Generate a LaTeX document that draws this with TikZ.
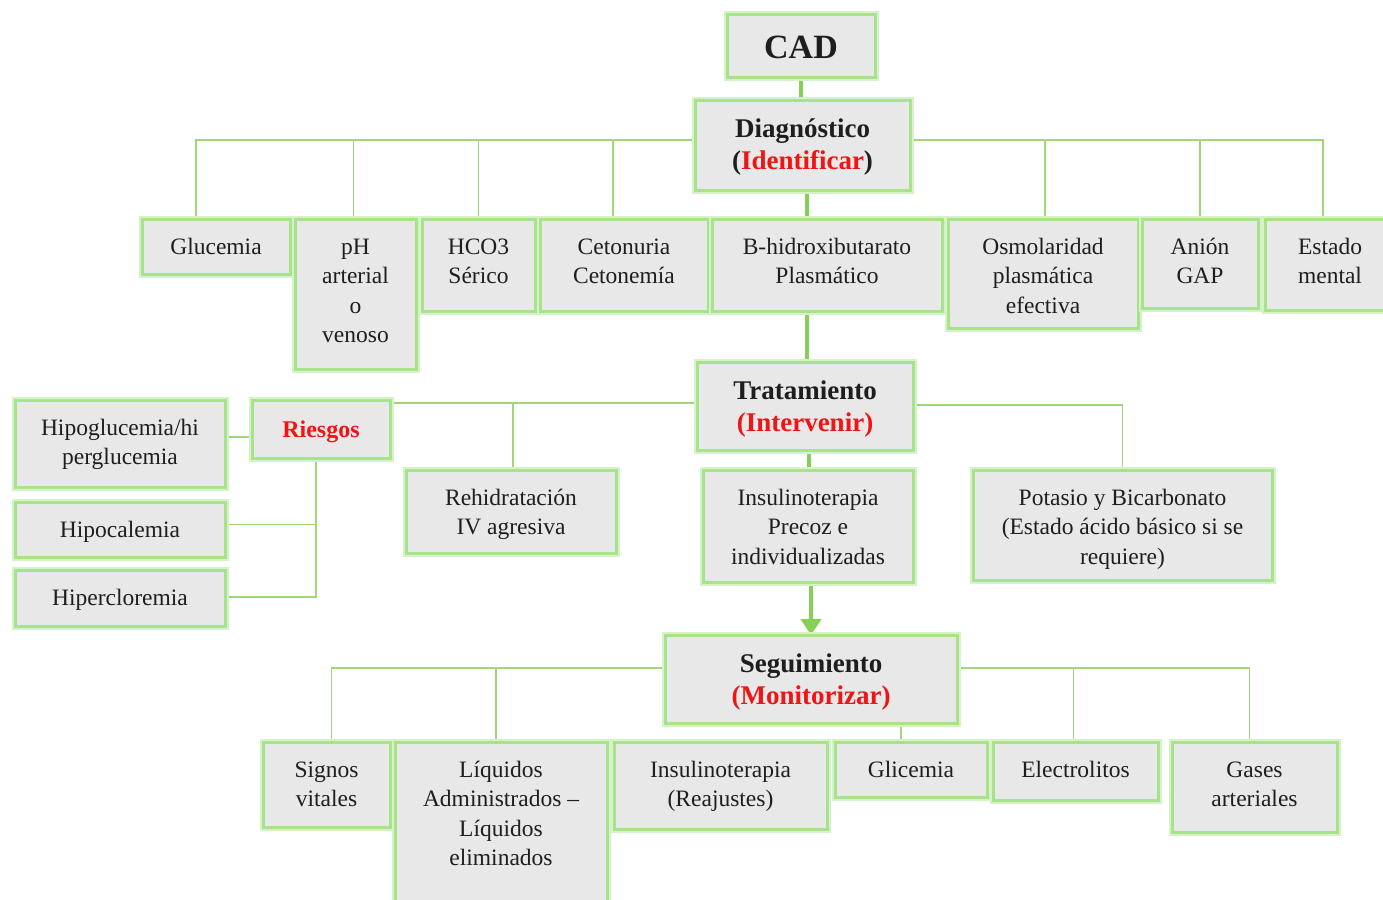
\documentclass[tikz,border=0pt]{standalone}
\usepackage{fontspec}
\setmainfont{Liberation Serif}
\usetikzlibrary{calc,arrows.meta}
\pgfdeclarelayer{background}
\pgfsetlayers{background,main}
\definecolor{boxfill}{RGB}{232,232,232}
\definecolor{boxedge}{RGB}{168,226,138}
\definecolor{glow}{RGB}{214,242,200}
\definecolor{conn}{RGB}{160,215,125}
\definecolor{spine}{RGB}{135,208,85}
\definecolor{txt}{RGB}{30,30,30}
\definecolor{redtxt}{RGB}{240,20,20}
\tikzset{
  boxnode/.style={draw=boxedge, line width=3pt, fill=boxfill, inner sep=0pt, outer sep=0pt,
    preaction={draw=glow, line width=7pt}},
  lbl/.style={anchor=north, yshift=-14.5pt, inner sep=0pt, align=center, text=txt,
    font=\fontsize{23.5}{29.5}\selectfont},
  hlbl/.style={lbl, yshift=0pt, font=\bfseries\fontsize{27}{32.5}\selectfont},
  cadlbl/.style={lbl, yshift=-1pt, font=\bfseries\fontsize{34}{40}\selectfont},
  conline/.style={draw=conn, line width=1.8pt},
  spineline/.style={draw=spine, line width=4pt},
}
\newcommand\mybox[5]{\node[boxnode, minimum width={#4-#2}, minimum height={#5-#3}] (#1) at ({(#2+#4)/2},{(#3+#5)/2}) {};}
\newcommand\mytext[3][lbl]{\node[#1] (#2t) at (#2.north) {\strut #3};}
\begin{document}
\begin{tikzpicture}[x=1pt,y=-1pt]
\useasboundingbox (0,0) rectangle (1383,899);
\clip (0,0) rectangle (1383,899);
% boxes
\mybox{cad}{727}{15}{875}{77}
\mybox{diag}{695}{100}{910}{190}
\mybox{glu}{142}{219}{290}{274}
\mybox{ph}{295}{219}{416}{369}
\mybox{hco}{422}{219}{535}{311}
\mybox{ceto}{540}{219}{708}{311}
\mybox{bhid}{712}{219}{942}{311}
\mybox{osmo}{948}{219}{1138}{328}
\mybox{anion}{1142}{219}{1258}{308}
\mybox{estado}{1265}{219}{1395}{310}
\mybox{trat}{697}{362}{913}{450}
\mybox{ries}{252}{400}{390}{458}
\mybox{hipo}{15}{400}{225}{487}
\mybox{hipoc}{15}{502}{225}{557}
\mybox{hiper}{15}{570}{225}{626}
\mybox{rehid}{406}{470}{616}{553}
\mybox{insp}{703}{470}{913}{582}
\mybox{pota}{973}{470}{1272}{580}
\mybox{seg}{665}{635}{957}{723}
\mybox{sig}{263}{742}{390}{827}
\mybox{liq}{395}{742}{607}{920}
\mybox{insr}{614}{742}{827}{829}
\mybox{glic}{835}{742}{987}{797}
\mybox{elec}{993}{742}{1158}{800}
\mybox{gases}{1172}{742}{1337}{832}
% texts
\mytext[cadlbl]{cad}{CAD}
\mytext[hlbl]{diag}{Diagnóstico\\(\textcolor{redtxt}{Identificar})}
\mytext{glu}{Glucemia}
\mytext{ph}{pH\\arterial\\o\\venoso}
\mytext{hco}{HCO3\\Sérico}
\mytext{ceto}{Cetonuria\\Cetonemía}
\mytext{bhid}{B-hidroxibutarato\\Plasmático}
\mytext{osmo}{Osmolaridad\\plasmática\\efectiva}
\mytext{anion}{Anión\\GAP}
\mytext{estado}{Estado\\mental}
\mytext[hlbl]{trat}{Tratamiento\\\textcolor{redtxt}{(Intervenir)}}
\mytext[hlbl,font=\bfseries\fontsize{24}{29.5}\selectfont,yshift=-2pt]{ries}{\textcolor{redtxt}{Riesgos}}
\mytext{hipo}{Hipoglucemia/hi\\perglucemia}
\mytext{hipoc}{Hipocalemia}
\mytext{hiper}{Hipercloremia}
\mytext{rehid}{Rehidratación\\IV agresiva}
\mytext{insp}{Insulinoterapia\\Precoz e\\individualizadas}
\mytext{pota}{Potasio y Bicarbonato\\(Estado ácido básico si se\\requiere)}
\mytext[hlbl]{seg}{Seguimiento\\\textcolor{redtxt}{(Monitorizar)}}
\mytext{sig}{Signos\\vitales}
\mytext{liq}{Líquidos\\Administrados –\\Líquidos\\eliminados}
\mytext{insr}{Insulinoterapia\\(Reajustes)}
\mytext{glic}{Glicemia}
\mytext{elec}{Electrolitos}
\mytext{gases}{Gases\\arteriales}
% connectors
\begin{pgfonlayer}{background}
\draw[spineline] (cad.south) -- (cad.south |- diag.north);
\draw[spineline] ($(diag.south)+(4,0)$) -- ($(diag.south |- bhid.north)+(4,0)$);
\draw[spineline] ($(trat.north)+(2,0)$) -- ($(trat.north |- bhid.south)+(2,0)$);
\draw[spineline] ($(trat.south)+(4,0)$) -- ($(trat.south |- insp.north)+(4,0)$);
\draw[spineline, -{Triangle[width=20pt,length=16pt]}] ($(insp.south)+(3,0)$) -- ($(insp.south |- seg.north)+(3,0)$);
% diagnostico
\coordinate (dl) at ($(diag.west)+(0,-5)$);
\coordinate (dr) at ($(diag.east)+(0,-5)$);
\draw[conline] (dl) -| ($(glu.north)+(-20,0)$);
\draw[conline] ($(ph.north)+(-2,0)$) |- (dl);
\draw[conline] (hco.north) |- (dl);
\draw[conline] ($(ceto.north)+(-11,0)$) |- (dl);
\draw[conline] (dr) -| ($(estado.north)+(-7,0)$);
\draw[conline] ($(osmo.north)+(2,0)$) |- (dr);
\draw[conline] (anion.north) |- (dr);
% tratamiento
\coordinate (tl) at ($(trat.west)+(0,-3)$);
\draw[conline] (tl) -- (tl -| ries.east);
\draw[conline] ($(rehid.north)+(2,0)$) |- (tl);
\draw[conline] ($(trat.east)+(0,-1)$) -| (pota.north);
% riesgos
\coordinate (rw) at ($(ries.west)+(0,8)$);
\draw[conline] (rw) -- (rw -| hipo.east);
\coordinate (rb) at ($(ries.south)+(-5,0)$);
\draw[conline] (rb) |- ($(hiper.east)+(0,-1)$);
\draw[conline] ($(hipoc.east)+(0,-5)$) -| (rb);
% seguimiento
\coordinate (sl) at ($(seg.west)+(0,-11)$);
\coordinate (sr) at ($(seg.east)+(0,-11)$);
\draw[conline] (sl) -| ($(sig.north)+(5,0)$);
\draw[conline] ($(liq.north)+(-5,0)$) |- (sl);
\draw[conline] (sr) -| ($(gases.north)+(-5,0)$);
\draw[conline] ($(elec.north)+(-2,0)$) |- (sr);
\coordinate (gd) at ($(glic.north)+(-10,0)$);
\draw[conline] (gd) -- (gd |- seg.south);
\end{pgfonlayer}
\end{tikzpicture}
\end{document}
